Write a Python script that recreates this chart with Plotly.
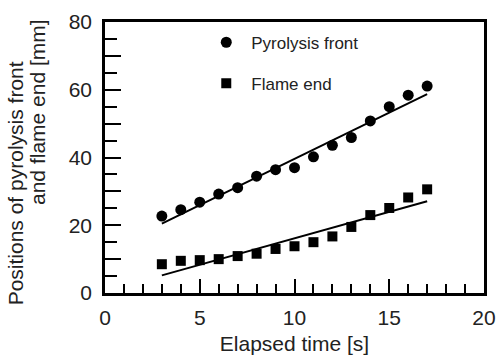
import plotly.graph_objects as go

time_s = [3, 4, 5, 6, 7, 8, 9, 10, 11, 12, 13, 14, 15, 16, 17]
pyrolysis_front = [22.7, 24.6, 26.8, 29.2, 31.1, 34.5, 36.4, 37.0, 40.2, 43.6, 45.9, 50.8, 55.0, 58.4, 61.1]
flame_end = [8.5, 9.5, 9.7, 10.0, 10.9, 11.6, 13.0, 13.8, 15.0, 16.7, 19.5, 23.0, 25.1, 28.2, 30.6]
fit_time = [3, 17]
pyrolysis_fit = [20.5, 58.7]
flame_fit = [5.2, 27.1]

FONT = "Liberation Sans, Arial, sans-serif"
TXT = "#222"

fig = go.Figure()
fig.add_trace(go.Scatter(x=fit_time, y=pyrolysis_fit, mode="lines",
                         line=dict(color="black", width=2), showlegend=False))
fig.add_trace(go.Scatter(x=fit_time, y=flame_fit, mode="lines",
                         line=dict(color="black", width=2), showlegend=False))
fig.add_trace(go.Scatter(x=time_s, y=pyrolysis_front, mode="markers", name="Pyrolysis front",
                         legendgroup="a",
                         marker=dict(symbol="circle", size=11, color="black")))
fig.add_trace(go.Scatter(x=time_s, y=flame_end, mode="markers", name="Flame end",
                         legendgroup="b",
                         marker=dict(symbol="square", size=10, color="black")))
# helper axis for the 10-step longer ticks
fig.add_trace(go.Scatter(x=[None], y=[None], yaxis="y2", showlegend=False, hoverinfo="skip"))

fig.update_layout(
    width=497, height=355,
    margin=dict(l=105, r=13, t=22, b=62, autoexpand=False),
    paper_bgcolor="white", plot_bgcolor="white",
    font=dict(family=FONT, size=21, color=TXT),
    showlegend=True,
    legend=dict(x=0.254, y=0.99, xanchor="left", yanchor="top", itemwidth=40,
                bgcolor="rgba(0,0,0,0)", font=dict(size=17, color=TXT),
                tracegroupgap=16),
    xaxis=dict(range=[0, 20], dtick=5, tick0=0, ticks="inside", ticklen=14, tickwidth=1.5,
               tickcolor="black", showline=True, linecolor="black", linewidth=2.5, mirror=True,
               showgrid=False, zeroline=False, automargin=False, ticklabelstandoff=4,
               minor=dict(dtick=1, tick0=0, ticks="inside", ticklen=9, tickwidth=1.5, tickcolor="black"),
               title=dict(text="Elapsed time [s]", standoff=10, font=dict(size=21))),
    yaxis=dict(range=[0, 80], dtick=20, tick0=0, ticks="inside", ticklen=16, tickwidth=1.5,
               tickcolor="black", showline=True, linecolor="black", linewidth=2.5, mirror=True,
               showgrid=False, zeroline=False, automargin=False, ticklabelstandoff=6,
               minor=dict(dtick=5, tick0=0, ticks="inside", ticklen=12, tickwidth=1.5, tickcolor="black")),
    yaxis2=dict(range=[0, 80], overlaying="y", side="left", dtick=10, tick0=0, ticks="inside",
                ticklen=16, tickwidth=1.5, tickcolor="black", showticklabels=False,
                showgrid=False, zeroline=False, showline=False, automargin=False),
    annotations=[
        dict(text="Positions of pyrolysis front", xref="paper", yref="paper",
             x=-0.237, y=(292.7 - 183) / 270.7, xanchor="center", yanchor="middle", textangle=-90,
             showarrow=False, font=dict(size=21, family=FONT, color=TXT)),
        dict(text="and flame end [mm]", xref="paper", yref="paper",
             x=-0.18, y=(292.7 - 207) / 270.7, xanchor="center", yanchor="bottom", textangle=-90,
             showarrow=False, font=dict(size=21, family=FONT, color=TXT)),
    ],
)

fig.write_html("out.html")
